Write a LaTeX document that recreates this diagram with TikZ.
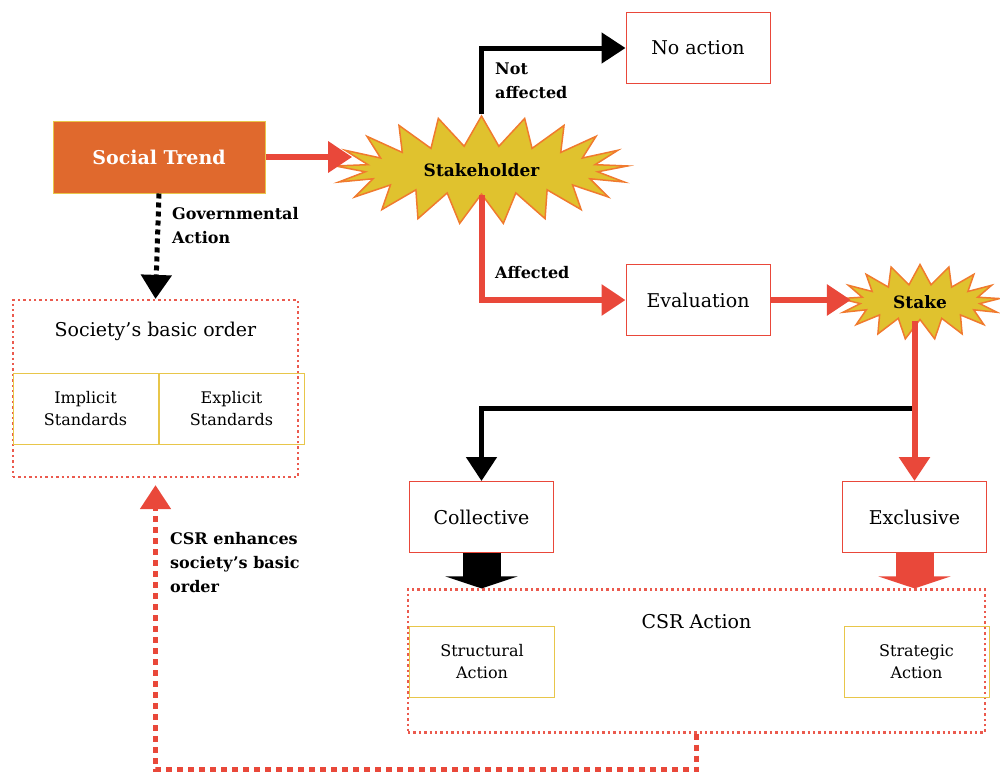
\documentclass[tikz,border=0pt]{standalone}
\usepackage{fontspec}
\setmainfont{DejaVu Serif}
\usetikzlibrary{arrows.meta,positioning,shapes.symbols}

\definecolor{csrred}{HTML}{E9483A}
\definecolor{trendorange}{HTML}{E0692D}
\definecolor{burstyellow}{HTML}{E0C22E}
\definecolor{burstedge}{HTML}{F07A2E}
\definecolor{stdyellow}{HTML}{E8C64A}

\begin{document}
\begin{tikzpicture}[x=1pt, y=-1pt,
  box/.style={draw=csrred, line width=1pt, minimum width=144pt, minimum height=71pt, inner sep=0pt, font=\fontsize{19}{22}\selectfont},
  stdbox/.style={draw=stdyellow, line width=1pt, minimum width=145pt, minimum height=71pt, inner sep=0pt, align=center, font=\fontsize{16}{22}\selectfont},
  group/.style={draw=csrred!90, line width=2.2pt, dash pattern=on 2.4pt off 3pt},
  burst/.style={starburst, random starburst=0, draw=burstedge, line width=1.5pt, fill=burstyellow, inner sep=0pt, font=\bfseries\fontsize{17}{20}\selectfont},
  lbl/.style={font=\bfseries\fontsize{16}{24}\selectfont, align=left, anchor=north west, inner sep=0pt},
  redarrow/.style={draw=csrred, line width=6pt, -{Triangle[length=24pt, width=30pt]}},
  blackarrow/.style={draw=black, line width=5pt, -{Triangle[length=24pt, width=30pt]}},
  blockarrow/.style={line width=38pt, -{Triangle[length=12pt, width=72pt]}}]

\useasboundingbox (0,0) rectangle (1000,772);

% top row
\node[draw=stdyellow, line width=1pt, fill=trendorange, text=white, minimum width=212pt, minimum height=72pt, font=\bfseries\fontsize{19}{22}\selectfont] (trend) at (159,157) {Social Trend};
\node[burst, minimum width=293pt, minimum height=108pt, starburst points=21, starburst point height=30pt] (holder) at (481.5,170) {Stakeholder};
\node[box] (noaction) at (698,48) {No action};
\node[box] (eval) at (698,300) {Evaluation};
\node[burst, minimum width=160pt, minimum height=75pt, starburst points=17, starburst point height=20pt] (stake) at (920,302) {Stake};

% society's basic order
\node[group, minimum width=285pt, minimum height=177pt] (society) at (155.5,388.5) {};
\node[font=\fontsize{19}{22}\selectfont] (societytitle) at (155.5,331) {Society’s basic order};
\node[stdbox] (implicit) at (85.5,408.5) {Implicit\\Standards};
\node[stdbox, right=0pt of implicit] (explicit) {Explicit\\Standards};

% stakes
\node[box] (coll) at (481.5,517) {Collective};
\node[box] (excl) at (914.5,517) {Exclusive};

% csr action
\node[group, minimum width=577pt, minimum height=143pt] (csr) at (696.5,661) {};
\node[font=\fontsize{19}{22}\selectfont] (csrtitle) at (696.5,622) {CSR Action};
\node[stdbox] (structural) at (482,662) {Structural\\Action};
\node[stdbox] (strategic) at (916.5,662) {Strategic\\Action};

\coordinate (split) at (917,408);

% connectors
\draw[redarrow] (trend.east) -- (trend.east -| holder.west);
\draw[blackarrow] (holder.north) |- (noaction.west);
\draw[redarrow] (holder.south) |- (eval.west);
\draw[redarrow] (eval.east) -- (eval.east -| stake.west);
\draw[blackarrow] (split) -| (coll.north);
\draw[redarrow] (excl.north |- stake.south) -- (excl.north);
\draw[blackarrow, dash pattern=on 5pt off 4pt] (trend.south) -- (society.north);
\draw[blockarrow, black] (coll.south) -- (coll.south |- csr.north);
\draw[blockarrow, csrred] (excl.south) -- (excl.south |- csr.north);
\draw[redarrow, line width=5pt, dash pattern=on 6pt off 5pt, shorten >=7pt] (csr.south) -- ++(0,36) -| (society.south);

% labels
\node[lbl] (notaff) at (495,63) {Not\\affected};
\node[lbl] (aff) at (495,266) {Affected};
\node[lbl] (gov) at (172,207) {Governmental\\Action};
\node[lbl] (enh) at (170,532) {CSR enhances\\society’s basic\\order};
\end{tikzpicture}
\end{document}
